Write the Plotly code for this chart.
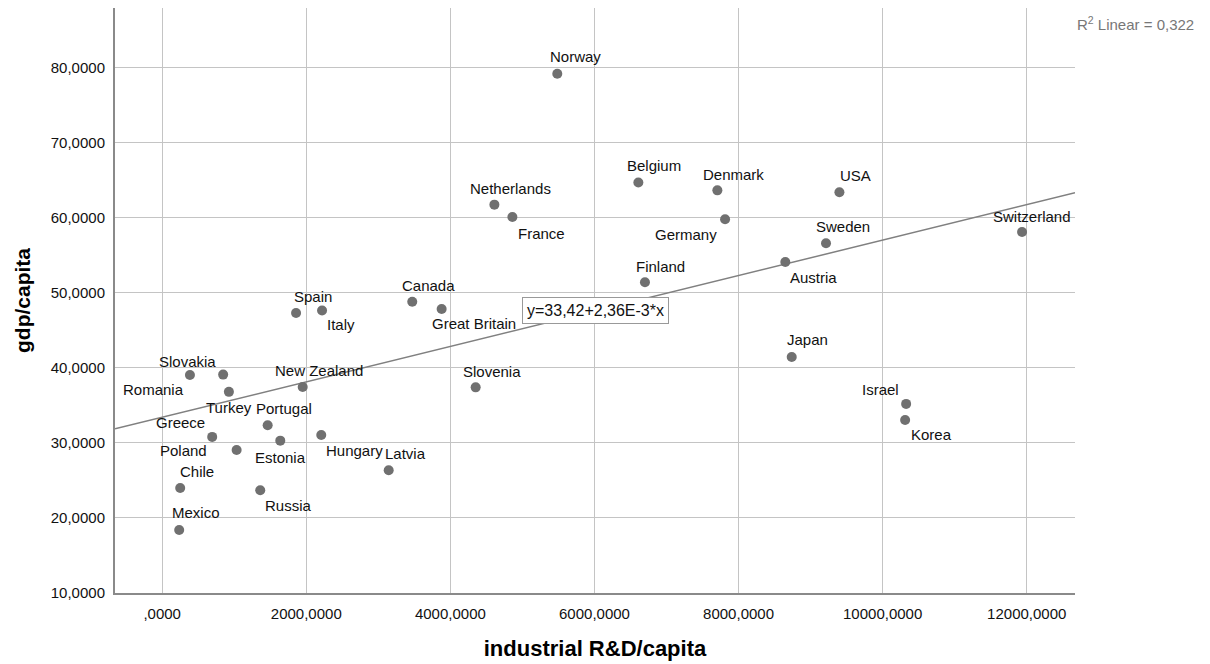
import plotly.graph_objects as go

# ---- data ----
countries = ["Norway", "Belgium", "Denmark", "USA", "Netherlands", "France", "Germany",
             "Switzerland", "Sweden", "Austria", "Finland", "Canada", "Great Britain",
             "Spain", "Italy", "Japan", "Israel", "Korea", "New Zealand", "Slovenia",
             "Slovakia", "Romania", "Turkey", "Portugal", "Greece", "Poland", "Estonia",
             "Hungary", "Latvia", "Chile", "Russia", "Mexico"]
rd_capita = [5484, 6609, 7706, 9400, 4611, 4861, 7813,
             11935, 9214, 8649, 6701, 3471, 3879,
             1858, 2219, 8738, 10326, 10312, 1950, 4351,
             846, 385, 926, 1464, 694, 1033, 1639,
             2208, 3144, 250, 1361, 236]
gdp_capita = [79.2, 64.7, 63.65, 63.4, 61.75, 60.1, 59.8,
              58.1, 56.6, 54.1, 51.4, 48.8, 47.85,
              47.3, 47.65, 41.45, 35.2, 33.05, 37.45, 37.4,
              39.1, 39.05, 36.8, 32.35, 30.8, 29.05, 30.3,
              31.05, 26.35, 24.0, 23.7, 18.4]

fit_intercept = 33.42
fit_slope = 2.36e-3
r2_text = "R<sup>2</sup> Linear = 0,322"
equation_text = "y=33,42+2,36E-3*x"

x_tickvals = [0, 2000, 4000, 6000, 8000, 10000, 12000]
x_ticktext = [",0000", "2000,0000", "4000,0000", "6000,0000", "8000,0000",
              "10000,0000", "12000,0000"]
y_tickvals = [10, 20, 30, 40, 50, 60, 70, 80]
y_ticktext = ["10,0000", "20,0000", "30,0000", "40,0000", "50,0000", "60,0000",
              "70,0000", "80,0000"]

x_range = [-655, 12670]
y_range = [10, 87.95]

# label placement (anchor, dx, dy in screen px; dy positive = down)
label_pos = {
    "Norway": ("center", 18, -17), "Belgium": ("center", 16, -17),
    "Denmark": ("center", 16, -16), "USA": ("center", 16, -17),
    "Netherlands": ("center", 16, -16), "France": ("left", 5, 16),
    "Germany": ("right", -7, 15), "Switzerland": ("center", 10, -16),
    "Sweden": ("center", 17, -17), "Austria": ("left", 4, 15),
    "Finland": ("center", 16, -16), "Canada": ("center", 16, -16),
    "Great Britain": ("left", -11, 15), "Spain": ("center", 17, -17),
    "Italy": ("left", 4, 14), "Japan": ("center", 16, -17),
    "Israel": ("right", -6, -14), "Korea": ("left", 5, 14),
    "New Zealand": ("center", 16, -16), "Slovenia": ("center", 16, -16),
    "Slovakia": ("right", -6, -13), "Romania": ("right", -5, 15),
    "Turkey": ("center", 0, 16), "Portugal": ("center", 16, -17),
    "Greece": ("right", -6, -14), "Poland": ("right", -29, 0),
    "Estonia": ("center", 0, 17), "Hungary": ("left", 4, 15),
    "Latvia": ("center", 17, -17), "Chile": ("center", 17, -16),
    "Russia": ("left", 4, 15), "Mexico": ("center", 17, -17),
}

FONT = "Liberation Sans, Arial, sans-serif"

fig = go.Figure()

# regression line across the full axis range
line_x = list(x_range)
line_y = [fit_intercept + fit_slope * v for v in line_x]
fig.add_trace(go.Scatter(x=line_x, y=line_y, mode="lines",
                         line=dict(color="#808080", width=1.5),
                         hoverinfo="skip", showlegend=False))

fig.add_trace(go.Scatter(x=rd_capita, y=gdp_capita, mode="markers",
                         marker=dict(size=10, color="#707070"),
                         text=countries, showlegend=False))

annotations = []
for name, xv, yv in zip(countries, rd_capita, gdp_capita):
    anc, dx, dy = label_pos[name]
    annotations.append(dict(x=xv, y=yv, xref="x", yref="y", text=name,
                            showarrow=False, xanchor=anc, yanchor="middle",
                            xshift=dx, yshift=-dy, borderpad=0,
                            font=dict(family=FONT, size=15, color="#111111")))

mid_x = (x_range[0] + x_range[1]) / 2
annotations.append(dict(x=mid_x, y=fit_intercept + fit_slope * mid_x, xref="x", yref="y",
                        text=equation_text, showarrow=False,
                        bgcolor="white", bordercolor="#999999", borderwidth=1,
                        borderpad=4, font=dict(family=FONT, size=16, color="#111111")))

annotations.append(dict(x=1, y=1, xref="paper", yref="paper", text=r2_text,
                        showarrow=False, xanchor="left", yanchor="top",
                        xshift=0, yshift=-4,
                        font=dict(family=FONT, size=15, color="#777777")))

# the page body adds an 8px offset, so the figure is 8px smaller on each side
fig.update_layout(
    width=1202, height=656,
    margin=dict(l=107, r=135, t=0, b=71),
    plot_bgcolor="white", paper_bgcolor="white",
    font=dict(family=FONT, size=15, color="#111111"),
    annotations=annotations,
    xaxis=dict(range=x_range, tickvals=x_tickvals, ticktext=x_ticktext,
               showgrid=True, gridcolor="#c4c4c4", gridwidth=1, zeroline=False,
               showline=True, linecolor="#8a8a8a", linewidth=2,
               ticks="outside", ticklen=6, tickcolor="rgba(0,0,0,0)",
               tickfont=dict(family=FONT, size=15, color="#111111"),
               title=dict(text="<b>industrial R&D/capita</b>", standoff=20,
                          font=dict(family=FONT, size=22, color="#000000"))),
    yaxis=dict(range=y_range, tickvals=y_tickvals, ticktext=y_ticktext,
               showgrid=True, gridcolor="#c4c4c4", gridwidth=1, zeroline=False,
               showline=True, linecolor="#8a8a8a", linewidth=2,
               ticks="outside", ticklen=5, tickcolor="rgba(0,0,0,0)",
               tickfont=dict(family=FONT, size=15, color="#111111"),
               title=dict(text="<b>gdp/capita</b>", standoff=14,
                          font=dict(family=FONT, size=21, color="#000000"))),
)

fig.write_html("out.html")
